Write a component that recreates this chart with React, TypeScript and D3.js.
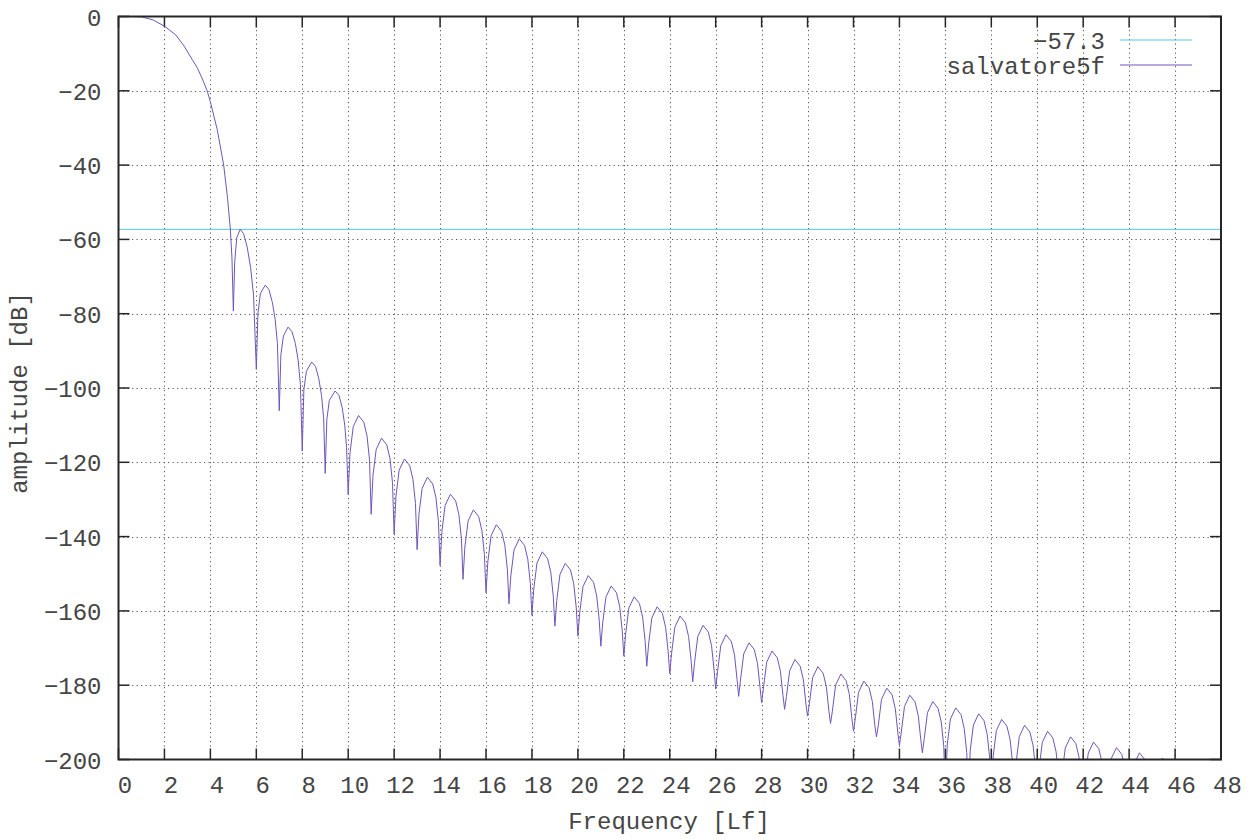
import React from "react";
import * as d3 from "d3";

// ---- data ----
const xTicks = [0, 2, 4, 6, 8, 10, 12, 14, 16, 18, 20, 22, 24, 26, 28, 30, 32, 34, 36, 38, 40, 42, 44, 46, 48];
const yTicks = [0, -20, -40, -60, -80, -100, -120, -140, -160, -180, -200];
const thresholdDb = -57.3;
const seriesNames = ["\u221257.3", "salvatore5f"];

// frequency samples [Lf]
const freq = [
  0, 0.5, 1.0, 1.5, 2.0, 2.5, 2.86, 3.2, 3.43, 3.65, 3.86, 4.0, 4.3, 4.58, 4.75, 4.87, 4.94,
  5.0, 5.06, 5.15, 5.3, 5.45, 5.6, 5.75, 5.88,
  6.0, 6.07, 6.18, 6.39, 6.55, 6.7, 6.82, 6.92,
  7.0, 7.07, 7.18, 7.38, 7.55, 7.7, 7.82, 7.92,
  8.0, 8.07, 8.18, 8.41, 8.58, 8.72, 8.84, 8.93,
  9.0, 9.07, 9.18, 9.43, 9.6, 9.74, 9.85, 9.93,
  10, 10.08, 10.22, 10.45, 10.68, 10.82, 10.93,
  11, 11.08, 11.22, 11.45, 11.68, 11.82, 11.93,
  12, 12.08, 12.22, 12.45, 12.68, 12.82, 12.93,
  13, 13.08, 13.22, 13.45, 13.68, 13.82, 13.93,
  14, 14.08, 14.22, 14.45, 14.68, 14.82, 14.93,
  15, 15.08, 15.22, 15.45, 15.68, 15.82, 15.93,
  16, 16.08, 16.22, 16.45, 16.68, 16.82, 16.93,
  17, 17.08, 17.22, 17.45, 17.68, 17.82, 17.93,
  18, 18.08, 18.22, 18.45, 18.68, 18.82, 18.93,
  19, 19.08, 19.22, 19.45, 19.68, 19.82, 19.93,
  20, 20.08, 20.22, 20.45, 20.68, 20.82, 20.93,
  21, 21.08, 21.22, 21.45, 21.68, 21.82, 21.93,
  22, 22.08, 22.22, 22.45, 22.68, 22.82, 22.93,
  23, 23.08, 23.22, 23.45, 23.68, 23.82, 23.93,
  24, 24.08, 24.22, 24.45, 24.68, 24.82, 24.93,
  25, 25.08, 25.22, 25.45, 25.68, 25.82, 25.93,
  26, 26.08, 26.22, 26.45, 26.68, 26.82, 26.93,
  27, 27.08, 27.22, 27.45, 27.68, 27.82, 27.93,
  28, 28.08, 28.22, 28.45, 28.68, 28.82, 28.93,
  29, 29.08, 29.22, 29.45, 29.68, 29.82, 29.93,
  30, 30.08, 30.22, 30.45, 30.68, 30.82, 30.93,
  31, 31.08, 31.22, 31.45, 31.68, 31.82, 31.93,
  32, 32.08, 32.22, 32.45, 32.68, 32.82, 32.93,
  33, 33.08, 33.22, 33.45, 33.68, 33.82, 33.93,
  34, 34.08, 34.22, 34.45, 34.68, 34.82, 34.93,
  35, 35.08, 35.22, 35.45, 35.68, 35.82, 35.93,
  36, 36.08, 36.22, 36.45, 36.68, 36.82, 36.93,
  37, 37.08, 37.22, 37.45, 37.68, 37.82, 37.93,
  38, 38.08, 38.22, 38.45, 38.68, 38.82, 38.93,
  39, 39.08, 39.22, 39.45, 39.68, 39.82, 39.93,
  40, 40.08, 40.22, 40.45, 40.68, 40.82, 40.93,
  41, 41.08, 41.22, 41.45, 41.68, 41.82, 41.93,
  42, 42.08, 42.22, 42.45, 42.68, 42.82, 42.93,
  43, 43.08, 43.22, 43.45, 43.68, 43.82, 43.93,
  44, 44.08, 44.22, 44.45, 44.68, 44.82, 44.93,
  45, 45.08, 45.22, 45.45, 45.68, 45.82, 45.93,
  46,
];

// amplitude [dB]
const amplitude = [
  0, 0, -0.1, -0.9, -2.6, -5.0, -8.0, -11.5, -13.8, -16.8, -20, -23, -30.5, -40, -49, -57.3, -65,
  -79.3, -66, -59.5, -57.3, -58.5, -62, -67.5, -75,
  -95.0, -80, -74.5, -72.3, -73.5, -77, -81.5, -88,
  -106.1, -91, -86, -83.6, -84.8, -88, -92.5, -99,
  -117, -100.5, -95.5, -93.0, -94.2, -97.5, -102, -108,
  -123, -108.5, -103.3, -100.8, -102, -105.3, -110, -116,
  -128.7, -117.4, -110.4, -107.4, -109.2, -112.9, -119.4,
  -134.0, -123.5, -116.5, -113.5, -115.3, -119.0, -125.5,
  -139.3, -129.1, -122.1, -119.1, -120.9, -124.6, -131.1,
  -143.5, -134.0, -127.0, -124.0, -125.8, -129.5, -136.0,
  -147.8, -138.6, -131.6, -128.6, -130.4, -134.1, -140.6,
  -151.5, -142.8, -135.8, -132.8, -134.6, -138.3, -144.8,
  -155.1, -146.8, -139.8, -136.8, -138.6, -142.3, -148.8,
  -158.1, -150.6, -143.6, -140.6, -142.4, -146.1, -152.6,
  -161.2, -154.1, -147.1, -144.1, -145.9, -149.6, -156.1,
  -164.1, -157.2, -150.2, -147.2, -149.0, -152.7, -159.2,
  -166.8, -160.5, -153.5, -150.5, -152.3, -156.0, -162.5,
  -169.5, -163.3, -156.3, -153.3, -155.1, -158.8, -165.3,
  -172.2, -166.2, -159.2, -156.2, -158.0, -161.7, -168.2,
  -174.9, -168.9, -161.9, -158.9, -160.7, -164.4, -170.9,
  -176.9, -171.4, -164.4, -161.4, -163.2, -166.9, -173.4,
  -179.1, -173.9, -166.9, -163.9, -165.7, -169.4, -175.9,
  -181.0, -176.4, -169.4, -166.4, -168.2, -171.9, -178.4,
  -183.0, -178.6, -171.6, -168.6, -170.4, -174.1, -180.6,
  -184.7, -180.8, -173.8, -170.8, -172.6, -176.3, -182.8,
  -186.5, -183.1, -176.1, -173.1, -174.9, -178.6, -185.1,
  -188.3, -185.0, -178.0, -175.0, -176.8, -180.5, -187.0,
  -190.3, -187.0, -180.0, -177.0, -178.8, -182.5, -189.0,
  -192.4, -188.9, -181.9, -178.9, -180.7, -184.4, -190.9,
  -193.9, -190.8, -183.8, -180.8, -182.6, -186.3, -192.8,
  -196.2, -192.7, -185.7, -182.7, -184.5, -188.2, -194.7,
  -198.2, -194.4, -187.4, -184.4, -186.2, -189.9, -196.4,
  -210, -196.1, -189.1, -186.1, -187.9, -191.6, -198.1,
  -212, -197.7, -190.7, -187.7, -189.5, -193.2, -199.7,
  -213, -199.2, -192.2, -189.2, -191.0, -194.7, -201.2,
  -214, -200.8, -193.8, -190.8, -192.6, -196.3, -202.8,
  -215, -202.4, -195.4, -192.4, -194.2, -197.9, -204.4,
  -216, -203.9, -196.9, -193.9, -195.7, -199.4, -205.9,
  -217, -205.3, -198.3, -195.3, -197.1, -200.8, -207.3,
  -218, -206.8, -199.8, -196.8, -198.6, -202.3, -208.8,
  -219, -208.2, -201.2, -198.2, -200.0, -203.7, -210.2,
  -220, -209.6, -202.6, -199.6, -201.4, -205.1, -211.6,
  -221,
];

// ---- layout ----
const W = 1253;
const H = 839;
const L = 118.5;
const R = 1221;
const T = 16.5;
const B = 759.5;
const FONT = "'Liberation Mono', 'DejaVu Sans Mono', monospace";
const TEXT = "#454545";
const CYAN = "#56c8e0";
const PURPLE = "#7055b8";
const FS = 24;

export default function App() {
  const x = d3.scaleLinear().domain([0, 48]).range([L, R]);
  const y = d3.scaleLinear().domain([-200, 0]).range([B, T]);
  const pts = freq.map((f, i) => [f, amplitude[i]] as [number, number]);
  const line = d3
    .line<[number, number]>()
    .x((d) => x(d[0]))
    .y((d) => y(d[1]));
  const tickLen = 11;
  return (
    <svg
      width={W}
      height={H}
      style={{ position: "absolute", left: 0, top: 0, background: "#fff" }}
      fontFamily={FONT}
    >
      <defs>
        <clipPath id="plotClip">
          <rect x={L} y={T} width={R - L} height={B - T} />
        </clipPath>
      </defs>
      <rect x={0} y={0} width={W} height={H} fill="#fff" />
      {/* grid */}
      <g stroke="#555" strokeWidth={1} strokeDasharray="1.2,3.3">
        {xTicks.slice(1, -1).map((t) => (
          <line key={"gx" + t} x1={Math.round(x(t)) + 0.5} x2={Math.round(x(t)) + 0.5} y1={T} y2={B} />
        ))}
        {yTicks.slice(1, -1).map((t) => (
          <line key={"gy" + t} y1={Math.round(y(t)) + 0.5} y2={Math.round(y(t)) + 0.5} x1={L} x2={R} />
        ))}
      </g>
      {/* ticks */}
      <g stroke="#262626" strokeWidth={1.5}>
        {xTicks.map((t) => (
          <g key={"tx" + t}>
            <line x1={x(t)} x2={x(t)} y1={B} y2={B - tickLen} />
            <line x1={x(t)} x2={x(t)} y1={T} y2={T + tickLen} />
          </g>
        ))}
        {yTicks.map((t) => (
          <g key={"ty" + t}>
            <line x1={L} x2={L + tickLen} y1={y(t)} y2={y(t)} />
            <line x1={R} x2={R - tickLen} y1={y(t)} y2={y(t)} />
          </g>
        ))}
      </g>
      {/* series */}
      <g clipPath="url(#plotClip)">
        <line x1={L} x2={R} y1={y(thresholdDb)} y2={y(thresholdDb)} stroke={CYAN} strokeWidth={1} />
        <path d={line(pts) || ""} fill="none" stroke={PURPLE} strokeWidth={1} strokeLinejoin="round" />
      </g>
      {/* frame */}
      <rect x={L} y={T} width={R - L} height={B - T} fill="none" stroke="#262626" strokeWidth={2} />
      {/* tick labels */}
      <g fill={TEXT} fontSize={FS}>
        {xTicks.map((t) => (
          <text key={"lx" + t} x={x(t) + 6.5} y={793} textAnchor="middle">
            {String(t)}
          </text>
        ))}
        {yTicks.map((t) => (
          <text key={"ly" + t} x={101.5} y={y(t) + 9} textAnchor="end">
            {t < 0 ? "\u2212" + String(-t) : String(t)}
          </text>
        ))}
      </g>
      {/* axis labels */}
      <text x={669} y={829} textAnchor="middle" fill={TEXT} fontSize={FS}>
        Frequency [Lf]
      </text>
      <text
        transform={`translate(27,393) rotate(-90)`}
        textAnchor="middle"
        fill={TEXT}
        fontSize={FS}
      >
        amplitude [dB]
      </text>
      {/* legend */}
      <g fontSize={FS} fill={TEXT}>
        <text x={1105} y={49} textAnchor="end">{seriesNames[0]}</text>
        <line x1={1120} x2={1192} y1={40} y2={40} stroke={CYAN} strokeWidth={1} />
        <text x={1105} y={74} textAnchor="end">{seriesNames[1]}</text>
        <line x1={1120} x2={1192} y1={65} y2={65} stroke={PURPLE} strokeWidth={1} />
      </g>
    </svg>
  );
}
